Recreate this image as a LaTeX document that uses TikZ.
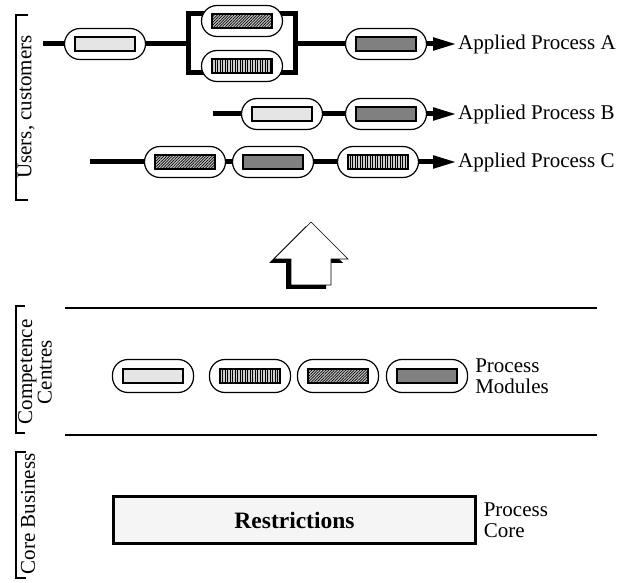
\documentclass[tikz,border=0pt]{standalone}
\usepackage{fontspec}
\setmainfont{Liberation Serif}
\usetikzlibrary{
	arrows.meta,
	patterns.meta,
	positioning
}

\begin{document}
\begin{tikzpicture}[
	x=1pt, y=-1pt,
	font=\fontsize{21}{21}\selectfont,
	capsule/.style={draw, line width=1.2pt, fill=white, rounded corners=15.5pt,
		minimum width=81pt, minimum height=31pt, inner sep=0},
	module/.style={draw, line width=2.8pt, minimum width=60pt, minimum height=14pt, inner sep=0},
	light/.style={module, fill=gray!20},
	dark/.style={module, fill=gray},
	hatched/.style={module, preaction={fill=gray!45},
		pattern={Lines[angle=45, distance=2pt, line width=0.7pt]}},
	striped/.style={module, preaction={fill=gray!40},
		pattern={Lines[angle=90, distance=2.5pt, line width=1pt]}},
	flow/.style={line width=5pt},
	flowarrow/.style={flow, -{Triangle[length=24pt, width=12pt]}},
	label/.style={anchor=west, inner sep=1pt},
	layerline/.style={line width=2.4pt},
	bracket/.style={line width=1.8pt},
	sidetext/.style={rotate=90, align=center, inner sep=0}
]
	\useasboundingbox (0,0) rectangle (633,583);

	% applied process A
	\coordinate (a0) at (43,44);
	\coordinate (aL) at (188,44);
	\coordinate (aR) at (295,44);
	\coordinate (pairNW) at (188,14);
	\coordinate (pairSE) at (295,73);
	\draw[flow] (pairNW) rectangle (pairSE);
	\node[capsule] (a1) at (105,44) {};
	\node[light] (a1m) at (a1) {};
	\node[capsule] (a2) at (242,21) {};
	\node[hatched] (a2m) at (a2) {};
	\node[capsule] (a3) at (242,66) {};
	\node[striped] (a3m) at (a3) {};
	\node[capsule] (a4) at (386,44) {};
	\node[dark] (a4m) at (a4) {};
	\node[label] (la) at (457,44) {Applied Process A};
	\draw[flow] (a0) -- (a1);
	\draw[flow] (a1) -- (aL);
	\draw[flow] (aR) -- (a4);
	\draw[flowarrow] (a4.east) -- (la.west);

	% applied process B
	\coordinate (b0) at (213,114);
	\node[capsule] (b1) at (282,114) {};
	\node[light] (b1m) at (b1) {};
	\node[capsule] (b2) at (386,114) {};
	\node[dark] (b2m) at (b2) {};
	\node[label] (lb) at (457,114) {Applied Process B};
	\draw[flow] (b0) -- (b1);
	\draw[flow] (b1) -- (b2);
	\draw[flowarrow] (b2.east) -- (lb.west);

	% applied process C
	\coordinate (c0) at (90,162);
	\node[capsule] (c1) at (185,162) {};
	\node[hatched] (c1m) at (c1) {};
	\node[capsule] (c2) at (273,162) {};
	\node[dark] (c2m) at (c2) {};
	\node[capsule] (c3) at (378,162) {};
	\node[striped] (c3m) at (c3) {};
	\node[label] (lc) at (457,162) {Applied Process C};
	\draw[flow] (c0) -- (c1);
	\draw[flow] (c1) -- (c2);
	\draw[flow] (c2) -- (c3);
	\draw[flowarrow] (c3.east) -- (lc.west);

	% big arrow with shadow
	\fill[black, shift={(-5,4)}] (311,222) -- (348,259) -- (331,259) -- (331,285)
		-- (291,285) -- (291,259) -- (274,259) -- cycle;
	\filldraw[fill=white, draw=black, line width=0.6pt] (311,222) -- (348,259) -- (331,259)
		-- (331,285) -- (291,285) -- (291,259) -- (274,259) -- cycle;

	% layers
	\draw[layerline] (65,308) -- (597,308);
	\draw[layerline] (65,435) -- (597,435);

	% process modules
	\node[capsule, minimum height=33pt] (m1) at (153,376) {};
	\node[light] (m1m) at (m1) {};
	\node[capsule, minimum height=33pt] (m2) at (250,376) {};
	\node[striped] (m2m) at (m2) {};
	\node[capsule, minimum height=33pt] (m3) at (338,376) {};
	\node[hatched] (m3m) at (m3) {};
	\node[capsule, minimum height=33pt] (m4) at (427,376) {};
	\node[dark] (m4m) at (m4) {};
	\node[label, align=left, right=6pt of m4] (pmod) {Process\\Modules};

	% process core
	\node[draw, line width=2.2pt, fill=gray!8, minimum width=362pt, minimum height=47pt]
		(restr) at (294.5,520) {\fontsize{23.5}{24}\selectfont\bfseries Restrictions};
	\node[label, align=left, right=6pt of restr] (pcore) {Process\\Core};

	% side brackets
	\draw[bracket] (28,15) -- (16,15) -- (16,200) -- (28,200);
	\node[sidetext] (users) at (26,107) {Users, customers};
	\draw[bracket] (25,306) -- (16,306) -- (16,433) -- (25,433);
	\node[sidetext, font=\fontsize{21}{17}\selectfont] (comp) at (35,372) {Competence\\Centres};
	\draw[bracket] (26,452) -- (16,452) -- (16,578) -- (26,578);
	\node[sidetext] (core) at (28,514) {Core Business};
\end{tikzpicture}
\end{document}
